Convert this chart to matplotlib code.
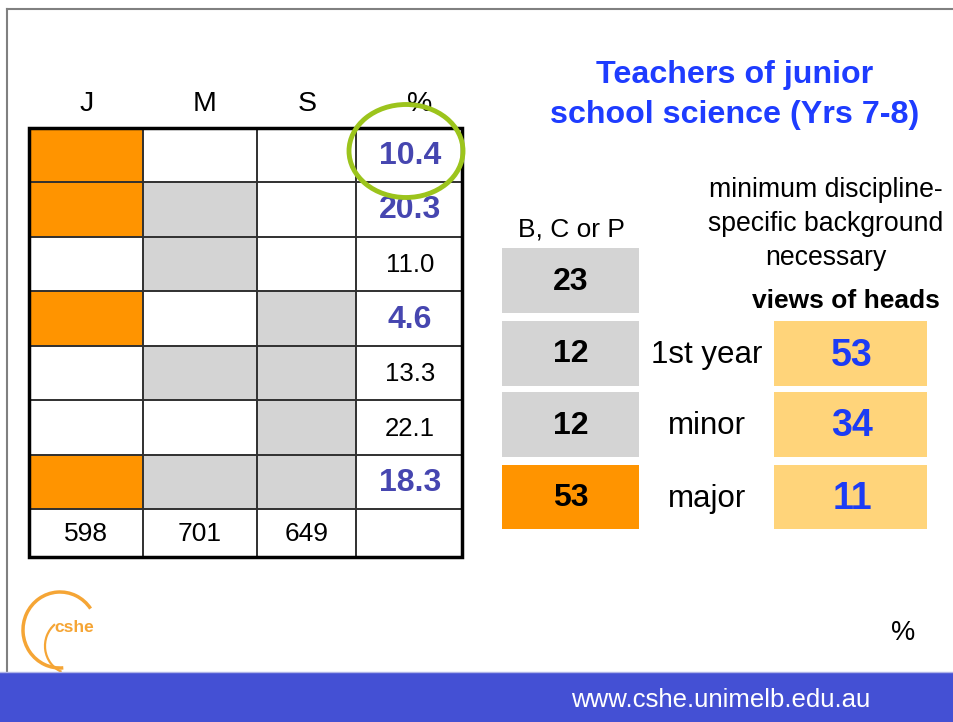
import matplotlib
matplotlib.use("Agg")
import matplotlib.pyplot as plt
from matplotlib.patches import Rectangle, Ellipse, Arc

plt.rcParams['font.family'] = ['Liberation Sans', 'DejaVu Sans']

# ---- data ----
col_labels = ["J", "M", "S", "%"]
j_flag = [1, 1, 0, 1, 0, 0, 1]
m_flag = [0, 1, 1, 0, 1, 0, 1]
s_flag = [0, 0, 0, 1, 1, 1, 1]
pct = [10.4, 20.3, 11.0, 4.6, 13.3, 22.1, 18.3]
totals = [598, 701, 649]

bcp_values = [23, 12, 12, 53]
levels = ["1st year", "minor", "major"]
heads_values = [53, 34, 11]

title = "Teachers of junior\nschool science (Yrs 7-8)"
subtitle = "minimum discipline-\nspecific background\nnecessary"
url = "www.cshe.unimelb.edu.au"

# ---- colours ----
ORANGE = "#FF9400"
GRAY = "#D4D4D4"
LIGHT_OR = "#FFD47A"
PCT_BLUE = "#4646B0"
BLUE = "#1C3CF5"
TITLE_BLUE = "#1E3CFF"
BAR_BLUE = "#4450D4"

fig = plt.figure(figsize=(9.54, 7.22), dpi=100)
ax = fig.add_axes([0, 0, 1, 1])
ax.set_xlim(0, 954)
ax.set_ylim(722, 0)
ax.axis("off")

# slide frame
ax.plot([7, 954], [9, 9], color="#808080", lw=1.5)
ax.plot([7, 7], [9, 672], color="#808080", lw=1.5)

# ---- left table ----
xs = [29, 143, 257, 356, 462]
ys = [128, 182, 237, 291, 346, 400, 455, 509, 557]
nrows = len(pct)
for i in range(nrows):
    y0, y1 = ys[i], ys[i + 1]
    for c, flags, col in ((0, j_flag, ORANGE), (1, m_flag, GRAY), (2, s_flag, GRAY)):
        if flags[i]:
            ax.add_patch(Rectangle((xs[c], y0), xs[c + 1] - xs[c], y1 - y0,
                                   facecolor=col, edgecolor="none", zorder=1))
    yc = (y0 + y1) / 2
    if j_flag[i]:
        ax.text((xs[3] + xs[4]) / 2 + 1, yc + 1, f"{pct[i]:.1f}", ha="center", va="center",
                fontsize=23, fontweight="bold", color=PCT_BLUE, zorder=3)
    else:
        ax.text((xs[3] + xs[4]) / 2 + 1, yc + 1, f"{pct[i]:.1f}", ha="center", va="center",
                fontsize=18.5, color="black", zorder=3)
for c, t in enumerate(totals):
    ax.text((xs[c] + xs[c + 1]) / 2, (ys[-2] + ys[-1]) / 2 + 1, str(t),
            ha="center", va="center", fontsize=19, color="black")
# grid lines
for x in xs[1:-1]:
    ax.plot([x, x], [ys[0], ys[-1]], color="#303030", lw=1.4, zorder=2)
for y in ys[1:-1]:
    ax.plot([xs[0], xs[-1]], [y, y], color="#303030", lw=1.4, zorder=2)
ax.add_patch(Rectangle((xs[0], ys[0]), xs[-1] - xs[0], ys[-1] - ys[0],
                       facecolor="none", edgecolor="black", lw=2.5, zorder=2))
# header
hx = [87, 205, 307, 420]
for x, lab in zip(hx, col_labels):
    ax.text(x, 104, lab, ha="center", va="center", fontsize=20.5, color="black")

# green ellipse
ax.add_patch(Ellipse((406, 151), 114, 93, facecolor="none", edgecolor="#9CC41C",
                     lw=3.5, zorder=4))

# ---- title ----
ax.text(735, 95, title, ha="center", va="center", fontsize=23.2, fontweight="bold",
        color=TITLE_BLUE, linespacing=1.4)

# ---- B, C or P column ----
ax.text(571, 229, "B, C or P", ha="center", va="center", fontsize=19, color="black")
bcp_y = [(248, 313), (321, 386), (392, 457), (465, 529)]
for k, (v, (y0, y1)) in enumerate(zip(bcp_values, bcp_y)):
    col = ORANGE if k == len(bcp_values) - 1 else GRAY
    ax.add_patch(Rectangle((502, y0), 137, y1 - y0, facecolor=col, edgecolor="none"))
    ax.text(570.5, (y0 + y1) / 2 + 1, str(v), ha="center", va="center",
            fontsize=23, fontweight="bold", color="black")

# ---- heads' views ----
ax.text(826, 224, subtitle, ha="center", va="center", fontsize=19.2, color="black",
        linespacing=1.42)
ax.text(940, 301, "views of heads", ha="right", va="center", fontsize=19,
        fontweight="bold", color="black")
for lab, v, (y0, y1) in zip(levels, heads_values, bcp_y[1:]):
    ax.add_patch(Rectangle((774, y0), 153, y1 - y0, facecolor=LIGHT_OR, edgecolor="none"))
    ax.text(852, (y0 + y1) / 2 + 2, str(v), ha="center", va="center",
            fontsize=27, fontweight="bold", color=BLUE)
    ax.text(707, (y0 + y1) / 2 + 2, lab, ha="center", va="center", fontsize=22.5,
            color="black")

ax.text(903, 633, "%", ha="center", va="center", fontsize=19.5, color="black")

# ---- logo (y axis inverted, so angles are mirrored) ----
LOGO = "#F5A535"
ax.add_patch(Arc((60, 630), 74, 76, theta1=85, theta2=325, color=LOGO, lw=2.5))
ax.add_patch(Arc((72, 646), 54, 56, theta1=112, theta2=232, color=LOGO, lw=1.6))
ax.text(54, 628, "cshe", ha="left", va="center", fontsize=12.5, fontweight="bold",
        color=LOGO)

# ---- bottom bar ----
ax.add_patch(Rectangle((0, 672), 954, 50, facecolor=BAR_BLUE, edgecolor="none"))
ax.plot([0, 954], [672, 672], color="#B0B4E8", lw=1)
ax.text(721, 700, url, ha="center", va="center", fontsize=18.5, color="white")

fig.savefig("out.png", dpi=100)
